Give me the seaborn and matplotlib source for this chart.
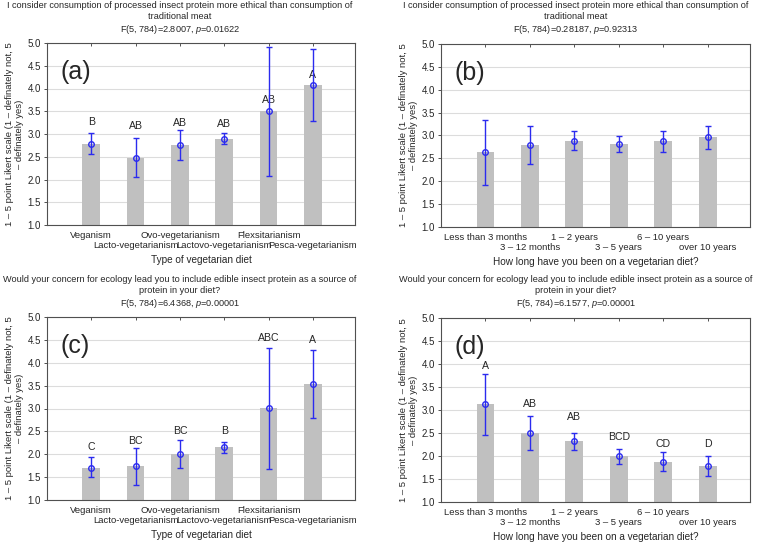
import numpy as np
import pandas as pd
import seaborn as sns
from matplotlib import pyplot as plt

diet_types = ["Veganism", "Lacto-vegetarianism", "Ovo-vegetarianism",
              "Lactovo-vegetarianism", "Flexsitarianism", "Pesca-vegetarianism"]
durations = ["Less than 3 months", "3 \u2013 12 months", "1 \u2013 2 years",
             "3 \u2013 5 years", "6 \u2013 10 years", "over 10 years"]

# (a) ethics vs diet type
a_mean = [2.78, 2.48, 2.75, 2.90, 3.50, 4.07]
a_low = [2.55, 2.05, 2.42, 2.78, 2.08, 3.29]
a_high = [3.02, 2.91, 3.08, 3.02, 4.92, 4.86]
a_letters = ["B", "AB", "AB", "AB", "AB", "A"]
a_letter_y = [3.27, 3.17, 3.25, 3.23, 3.74, 4.29]

# (b) ethics vs duration
b_mean = [2.63, 2.79, 2.88, 2.81, 2.87, 2.96]
b_low = [1.92, 2.38, 2.68, 2.63, 2.65, 2.71]
b_high = [3.34, 3.20, 3.09, 2.99, 3.10, 3.20]

# (c) ecology vs diet type
c_mean = [1.71, 1.74, 2.01, 2.15, 3.01, 3.53]
c_low = [1.50, 1.33, 1.70, 2.02, 1.67, 2.80]
c_high = [1.93, 2.14, 2.31, 2.26, 4.33, 4.28]
c_letters = ["C", "BC", "BC", "B", "ABC", "A"]
c_letter_y = [2.15, 2.30, 2.51, 2.51, 4.54, 4.49]

# (d) ecology vs duration
d_mean = [3.12, 2.50, 2.32, 2.00, 1.88, 1.79]
d_low = [2.46, 2.13, 2.13, 1.83, 1.67, 1.56]
d_high = [3.78, 2.88, 2.51, 2.16, 2.08, 2.01]
d_letters = ["A", "AB", "AB", "BCD", "CD", "D"]
d_letter_y = [3.96, 3.12, 2.85, 2.41, 2.27, 2.27]

q_ethics = ("I consider consumption of processed insect protein more ethical than consumption of\n"
            "traditional meat")
q_ecology = ("Would your concern for ecology lead you to include edible insect protein as a source of\n"
             "protein in your diet?")
stats = ["F(5, 784)=2.8007, $\\mathit{p}$=0.01622",
         "F(5, 784)=0.28187, $\\mathit{p}$=0.92313",
         "F(5, 784)=6.4368, $\\mathit{p}$=0.00001",
         "F(5, 784)=6.1577, $\\mathit{p}$=0.00001"]
ylab = "1 \u2013 5 point Likert scale (1 \u2013 definately not, 5\n\u2013 definately yes)"

sns.set_style("white")
plt.rcParams['font.family'] = ['Liberation Sans', 'DejaVu Sans']
plt.rcParams['mathtext.fontset'] = 'custom'
plt.rcParams['mathtext.it'] = 'Liberation Sans:italic'
plt.rcParams['mathtext.rm'] = 'Liberation Sans'

W, H = 757, 544
fig = plt.figure(figsize=(W / 100, H / 100), dpi=100)

FS = 6.8
BAR = "#c0c0c0"
BLUE = "#2b2bef"
SPINE = "#505050"


def make_axes(l, r, t, b):
    return fig.add_axes([l / W, 1 - b / H, (r - l) / W, (b - t) / H])


def panel(ax, cats, mean, low, high, tag, xlab, letters=None, letter_y=None):
    df = pd.DataFrame({"cat": cats, "mean": mean})
    sns.barplot(data=df, x="cat", y="mean", color=BAR, width=0.4, saturation=1,
                errorbar=None, linewidth=0, ax=ax)
    mean = np.array(mean)
    err = [mean - np.array(low), np.array(high) - mean]
    ax.errorbar(np.arange(len(cats)), mean, yerr=err, fmt='o', color=BLUE,
                mfc='none', mec=BLUE, ms=4, mew=1, elinewidth=1, capsize=2.5,
                capthick=1, zorder=5)
    if letters:
        for i, (s, y) in enumerate(zip(letters, letter_y)):
            ax.text(i, y, s, ha='center', va='center', fontsize=7.6)
    ax.set_xlim(-1, 5.95)
    ax.set_ylim(1, 5)
    ax.set_yticks(np.arange(1, 5.01, 0.5))
    ax.set_yticklabels([f"{v:.1f}" for v in np.arange(1, 5.01, 0.5)], fontsize=FS + 0.2)
    ax.set_xticks(range(len(cats)))
    ax.set_xticklabels(cats, fontsize=FS)
    ax.grid(axis='y', color='#dcdcdc', lw=0.8)
    ax.set_axisbelow(True)
    for sp in ax.spines.values():
        sp.set_color(SPINE)
        sp.set_linewidth(0.8)
    ax.tick_params(axis='x', direction='in', top=True, bottom=True, length=2.5,
                   pad=4, color=SPINE, width=0.7)
    # staggered category labels: every second one on a lower row
    for i, t in enumerate(ax.xaxis.get_major_ticks()):
        if i % 2 == 1:
            t.set_pad(11.8)
    ax.tick_params(axis='y', direction='out', left=True, length=2.5, pad=2,
                   color=SPINE, width=0.7)
    sec = ax.secondary_yaxis('right')
    sec.set_yticks(np.arange(1, 5.01, 0.5))
    sec.tick_params(direction='in', length=2.5, labelright=False, color=SPINE, width=0.7)
    sec.spines['right'].set_visible(False)
    ax.set_xlabel(xlab, fontsize=FS + 0.4, labelpad=3)
    ax.set_ylabel(ylab, fontsize=FS, linespacing=1.15)
    ax.yaxis.set_label_coords(-0.075, 0.5)
    ax.text(0.045, 0.84, tag, transform=ax.transAxes, fontsize=18, va='center', ha='left')


ax_a = make_axes(47, 355, 43, 225)
ax_b = make_axes(441, 750, 44, 227)
ax_c = make_axes(47, 355, 317, 500)
ax_d = make_axes(441, 750, 318, 502)

panel(ax_a, diet_types, a_mean, a_low, a_high, "(a)", "Type of vegetarian diet",
      a_letters, a_letter_y)
panel(ax_b, durations, b_mean, b_low, b_high, "(b)",
      "How long have you been on a vegetarian diet?")
panel(ax_c, diet_types, c_mean, c_low, c_high, "(c)", "Type of vegetarian diet",
      c_letters, c_letter_y)
panel(ax_d, durations, d_mean, d_low, d_high, "(d)",
      "How long have you been on a vegetarian diet?", d_letters, d_letter_y)

title_spec = [(180, 1, q_ethics, stats[0]), (576, 1, q_ethics, stats[1]),
              (180, 275, q_ecology, stats[2]), (576, 275, q_ecology, stats[3])]
for x, y, q, s in title_spec:
    fig.text(x / W, 1 - y / H, q + "\n" + s, ha='center', va='top',
             fontsize=6.6, linespacing=1.25, multialignment='center')

fig.savefig("out.png", dpi=100)
